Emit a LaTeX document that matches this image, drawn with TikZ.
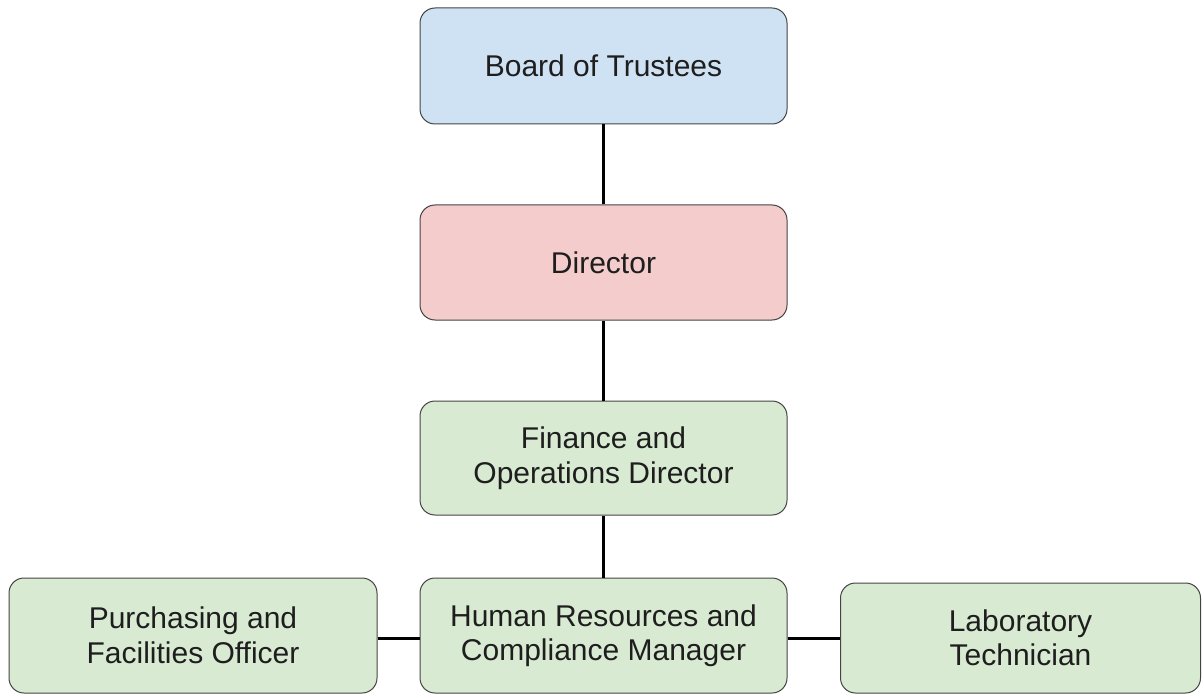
\documentclass[tikz,border=0pt]{standalone}
\usepackage{fontspec}
\setmainfont{Liberation Sans}
\definecolor{bblue}{HTML}{CFE2F3}
\definecolor{bred}{HTML}{F4CCCC}
\definecolor{bgreen}{HTML}{D9EAD3}
\definecolor{bord}{HTML}{444444}
\definecolor{txt}{HTML}{1E1E1E}
\begin{document}
\begin{tikzpicture}[x=1pt,y=-1pt,
  box/.style={draw=bord,line width=1pt,rounded corners=15pt,align=center,
    inner sep=0pt,font=\fontsize{30}{34.5}\selectfont,text=txt},
  link/.style={line width=3pt,black}]
\useasboundingbox (0,0) rectangle (1202,695);
\node[box,fill=bblue,minimum width=367pt,minimum height=116pt] (board) at (603.5,66) {Board of Trustees};
\node[box,fill=bred,minimum width=367pt,minimum height=115pt] (dir) at (603.5,262.5) {Director};
\node[box,fill=bgreen,minimum width=367pt,minimum height=114pt] (fin) at (603.5,458) {Finance and\\Operations Director};
\node[box,fill=bgreen,minimum width=367pt,minimum height=115pt] (hr) at (603.5,635.5) {Human Resources and\\Compliance Manager};
\node[box,fill=bgreen,minimum width=368pt,minimum height=115pt] (pur) at (193,635.5) {Purchasing and\\Facilities Officer};
\node[box,fill=bgreen,minimum width=360pt,minimum height=110pt] (lab) at (1020.5,638) {Laboratory\\Technician};
\draw[link] (board) -- (dir);
\draw[link] (dir) -- (fin);
\draw[link] (fin) -- (hr);
\draw[link] (pur.east |- lab.west) -- (hr.west |- lab.west);
\draw[link] (hr.east |- lab.west) -- (lab.west);
\end{tikzpicture}
\end{document}
